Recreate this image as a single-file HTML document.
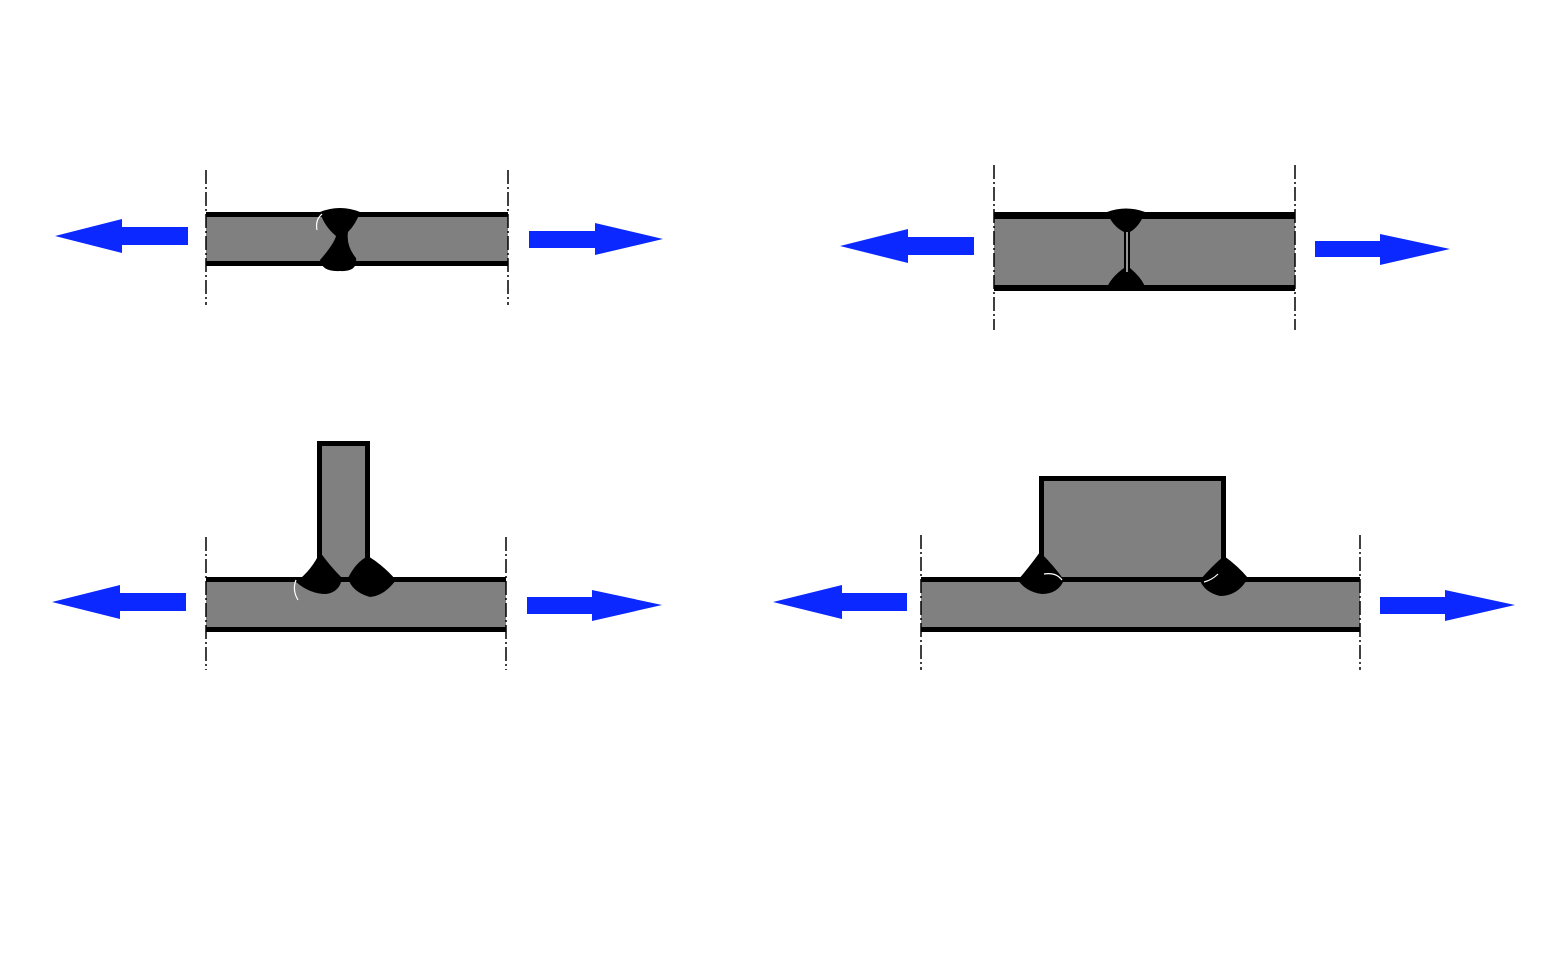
<!DOCTYPE html>
<html><head><style>body{margin:0;background:#fff}svg{display:block}</style></head><body>
<svg width="1561" height="964" viewBox="0 0 1561 964" xmlns="http://www.w3.org/2000/svg">
<g fill="#0a28ff">
<polygon points="55,236 122,219 122,227 188,227 188,245 122,245 122,253"/>
<polygon points="529,231 595,231 595,223 663,239 595,255 595,248 529,248"/>
<polygon points="840,246 908,229 908,237 974,237 974,255 908,255 908,263"/>
<polygon points="1315,241 1380,241 1380,234 1450,249 1380,265 1380,257 1315,257"/>
<polygon points="52,602 120,585 120,593 186,593 186,611 120,611 120,619"/>
<polygon points="527,597 592,597 592,590 662,605 592,621 592,614 527,614"/>
<polygon points="773,602 842,585 842,593 907,593 907,611 842,611 842,619"/>
<polygon points="1380,597 1445,597 1445,590 1515,605 1445,621 1445,614 1380,614"/>
</g>
<!-- panel 1 -->
<rect x="206" y="212" width="302" height="54" fill="#808080"/>
<rect x="206" y="212" width="302" height="5" fill="#000"/>
<rect x="206" y="261" width="302" height="5" fill="#000"/>
<path d="M320,212 Q340,204 360,212 Q356,224 348,232 Q346,246 356,258 Q358,272 340,271 Q322,272 320,260 Q334,244 336,236 Q324,226 320,212Z" fill="#000"/>
<path d="M322,214 Q315,220 317,230" stroke="#fff" stroke-width="1.2" fill="none"/>
<!-- panel 2 -->
<rect x="994" y="212" width="301" height="79" fill="#808080"/>
<rect x="994" y="212" width="301" height="7" fill="#000"/>
<rect x="994" y="285" width="301" height="6" fill="#000"/>
<path d="M1107,212 Q1126,205 1145,212 Q1140,226 1130,232 L1130,268 Q1144,280 1146,290 L1106,290 Q1110,278 1124,268 L1124,232 Q1112,226 1107,212Z" fill="#000"/>
<path d="M1127,232 L1127,272" stroke="#fff" stroke-width="1.2"/>
<!-- panel 3 -->
<rect x="206" y="577" width="300" height="55" fill="#808080"/>
<rect x="206" y="577" width="300" height="5" fill="#000"/>
<rect x="206" y="627" width="300" height="5" fill="#000"/>
<rect x="319.5" y="443.5" width="48" height="136" fill="#808080" stroke="#000" stroke-width="5"/>
<path d="M320,552 Q330,566 342,578 Q340,592 326,594 Q310,594 296,582 Q312,570 320,552Z" fill="#000"/>
<path d="M368,556 Q384,566 396,580 Q384,596 370,597 Q352,592 348,578 Q356,562 368,556Z" fill="#000"/>
<path d="M296,580 Q292,590 298,600" stroke="#fff" stroke-width="1.2" fill="none"/>
<!-- panel 4 -->
<rect x="921" y="577" width="439" height="55" fill="#808080"/>
<rect x="921" y="577" width="439" height="5" fill="#000"/>
<rect x="921" y="627" width="439" height="5" fill="#000"/>
<rect x="1041.5" y="478.5" width="182" height="101" fill="#808080" stroke="#000" stroke-width="5"/>
<path d="M1040,552 Q1054,566 1064,580 Q1058,594 1042,594 Q1026,592 1018,580 Q1030,566 1040,552Z" fill="#000"/>
<path d="M1224,556 Q1238,566 1248,578 Q1238,596 1220,596 Q1204,592 1200,580 Q1212,566 1224,556Z" fill="#000"/>
<path d="M1044,574 Q1056,572 1062,580" stroke="#fff" stroke-width="1.2" fill="none"/>
<path d="M1204,582 Q1212,580 1218,574" stroke="#fff" stroke-width="1.2" fill="none"/>
<g stroke="#000" stroke-width="1.5" stroke-dasharray="14,3,2,3">
<line x1="206" y1="170" x2="206" y2="305"/><line x1="508" y1="170" x2="508" y2="305"/>
<line x1="994" y1="165" x2="994" y2="330"/><line x1="1295" y1="165" x2="1295" y2="330"/>
<line x1="206" y1="537" x2="206" y2="670"/><line x1="506" y1="537" x2="506" y2="670"/>
<line x1="921" y1="535" x2="921" y2="670"/><line x1="1360" y1="535" x2="1360" y2="670"/>
</g>
</svg>
</body></html>
